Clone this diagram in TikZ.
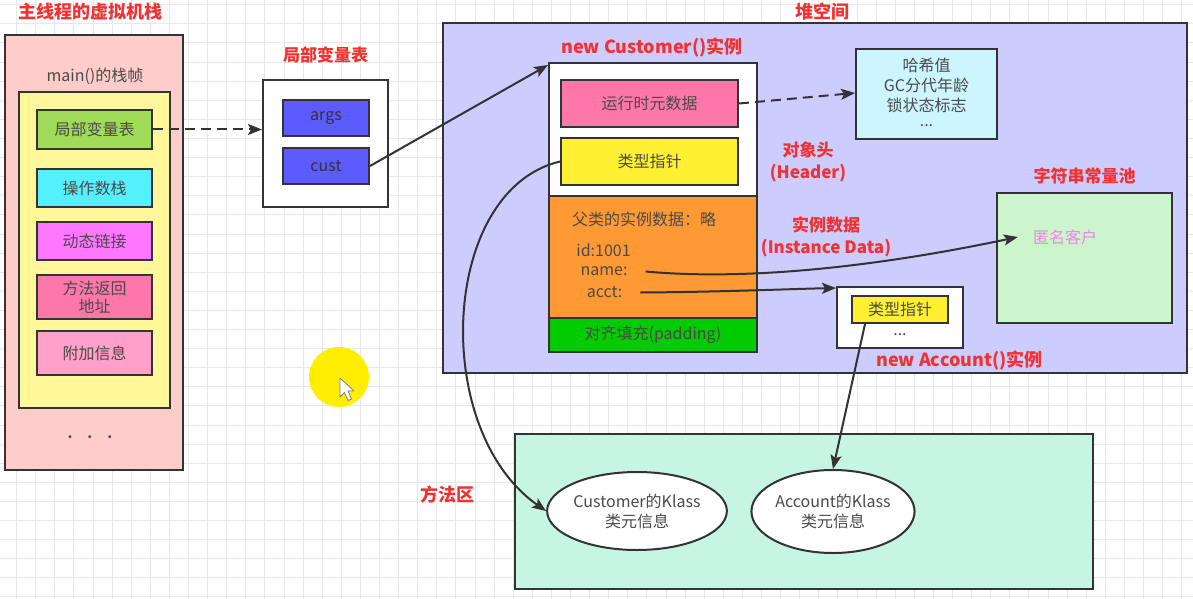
\documentclass[tikz,border=0pt]{standalone}
\usepackage{fontspec}
\setmainfont{Noto Sans CJK SC}
\usetikzlibrary{arrows.meta,shapes.geometric}
\definecolor{edge}{HTML}{333333}
\definecolor{txt}{HTML}{4A4A4A}
\definecolor{ttl}{RGB}{240,50,50}
\definecolor{gridc}{RGB}{232,232,232}
\definecolor{stackbg}{HTML}{FFCCCC}
\definecolor{framebg}{HTML}{FFF799}
\definecolor{lvtc}{HTML}{A0DC5A}
\definecolor{opsc}{HTML}{55F0FF}
\definecolor{dync}{HTML}{FF77FF}
\definecolor{retc}{HTML}{FF77AA}
\definecolor{addc}{HTML}{FFA0C8}
\definecolor{bluec}{HTML}{5B5BFF}
\definecolor{heapc}{HTML}{CCCCFF}
\definecolor{metac}{HTML}{FF77AA}
\definecolor{tpc}{HTML}{FFF033}
\definecolor{orangec}{HTML}{FF9933}
\definecolor{padc}{HTML}{00CC00}
\definecolor{infoc}{HTML}{CCF5FF}
\definecolor{poolc}{HTML}{CCF5CC}
\definecolor{anonc}{HTML}{EE82EE}
\definecolor{methc}{HTML}{C6F5E3}
\definecolor{cursc}{HTML}{FFEE00}
\newcommand\boxfont{\fontsize{16}{20}\selectfont}
\newcommand\bigtitle{\fontsize{18}{21}\selectfont\bfseries}
\newcommand\smalltitle{\fontsize{17}{22}\selectfont\bfseries}
\tikzset{
  box/.style={draw=edge, line width=2pt, inner sep=0pt, text=txt, font=\boxfont, align=center},
  lbl/.style={inner sep=0pt, text=txt, font=\boxfont, align=center},
  ttlA/.style={inner sep=0pt, text=ttl, font=\bigtitle, align=center},
  ttlB/.style={inner sep=0pt, text=ttl, font=\smalltitle, align=center},
  arr/.style={draw=edge, line width=2pt, -{Stealth[length=14pt,width=11pt,inset=3pt]}},
  dasharr/.style={arr, dash pattern=on 10pt off 6pt}
}
\begin{document}
\begin{tikzpicture}[x=1pt,y=-1pt]
\useasboundingbox (0,0) rectangle (1193,599);
\fill[white] (0,0) rectangle (1193,599);
\foreach \i in {0,...,61} \draw[gridc, line width=0.8pt] ({16.5+\i*19.1},0) -- ({16.5+\i*19.1},599);
\foreach \j in {0,...,31} \draw[gridc, line width=0.8pt] (0,{4.7+\j*19.1}) -- (1193,{4.7+\j*19.1});

% ---- main thread stack ----
\node[ttlA] (stackTitle) at (90,12) {主线程的虚拟机栈};
\node[box, fill=stackbg, minimum width=178, minimum height=435] (stack) at (94,252.5) {};
\node[lbl] (frameTitle) at (95,76) {main()的栈帧};
\node[box, fill=framebg, minimum width=151, minimum height=316] (frame) at (94.5,250) {};
\node[box, fill=lvtc, minimum width=115, minimum height=39] (lvt) at (94.5,129.5) {局部变量表};
\node[box, fill=opsc, minimum width=115, minimum height=38] (ops) at (94.5,188) {操作数栈};
\node[box, fill=dync, minimum width=115, minimum height=38] (dyn) at (94.5,241) {动态链接};
\node[box, fill=retc, minimum width=115, minimum height=44, font=\fontsize{16}{18}\selectfont] (ret) at (94.5,297) {方法返回\\地址};
\node[box, fill=addc, minimum width=115, minimum height=44] (add) at (94.5,353) {附加信息};
\node[lbl, font=\fontsize{14}{16}\selectfont] (dots) at (90,439) {•\hspace{6pt}•\hspace{6pt}•};

% ---- local variable table ----
\node[ttlB] (lvTitle) at (325.5,55) {局部变量表};
\node[box, fill=white, minimum width=125, minimum height=127] (lvbox) at (325.5,143.5) {};
\node[box, fill=bluec, minimum width=86, minimum height=36, text=edge] (args) at (326,118) {args};
\node[box, fill=bluec, minimum width=86, minimum height=36, text=edge] (cust) at (326,166) {cust};

% ---- cursor highlight ----
\fill[cursc] (339,377) circle (30);
\draw[fill=white, draw=gray, line width=0.8pt, line join=round] (340,378) -- (340,397) -- (344.5,392.5) -- (348,400.5) -- (351.5,399) -- (348,391) -- (354,391) -- cycle;

% ---- heap ----
\node[ttlA] (heapTitle) at (822,12) {堆空间};
\node[box, fill=heapc, minimum width=744, minimum height=350] (heap) at (815,198) {};
\node[ttlA] (custTitle) at (652,48) {new Customer()实例};
\node[box, fill=white, minimum width=208, minimum height=133] (custHead) at (653,129.5) {};
\node[box, fill=metac, minimum width=177, minimum height=47] (meta) at (649.5,103.5) {运行时元数据};
\node[box, fill=tpc, minimum width=177, minimum height=47] (tp) at (649.5,161.5) {类型指针};
\node[box, fill=orangec, minimum width=208, minimum height=122] (inst) at (653,257) {};
\node[box, fill=padc, minimum width=208, minimum height=34] (pad) at (653,335) {对齐填充(padding)};
\node[lbl] (superT) at (644,219) {父类的实例数据：略};
\node[lbl] (idT) at (603.5,250) {id:1001};
\node[lbl] (nameT) at (604,271.5) {name:};
\node[lbl] (acctT) at (604.5,292.5) {acct:};
\node[ttlB] (headerLbl) at (808,162) {对象头\\(Header)};
\node[ttlB] (instLbl) at (826,236.5) {实例数据\\(Instance Data)};

\node[box, fill=infoc, minimum width=141, minimum height=90] (info) at (926.5,94) {};
\node[lbl] (h1) at (926.5,65) {哈希值};
\node[lbl] (h2) at (926.5,85) {GC分代年龄};
\node[lbl] (h3) at (926.5,105) {锁状态标志};
\node[lbl] (h4) at (926.5,126) {...};

\node[ttlB] (poolTitle) at (1084.5,176) {字符串常量池};
\node[box, fill=poolc, minimum width=175, minimum height=130] (pool) at (1084.5,258) {};
\node[lbl, text=anonc] (anon) at (1065,237) {匿名客户};

\node[box, fill=white, minimum width=126, minimum height=61] (acctBox) at (900,317.5) {};
\node[box, fill=tpc, minimum width=96, minimum height=27] (acctTp) at (900,309.5) {类型指针};
\node[lbl] (acctDots) at (900,335) {...};
\node[ttlA] (acctTitle) at (959.5,361) {new Account()实例};

% ---- method area ----
\node[ttlA] (methTitle) at (447,495) {方法区};
\node[box, fill=methc, minimum width=578, minimum height=155] (meth) at (804,511.5) {};
\node[box, fill=white, ellipse, minimum width=174, minimum height=78] (custK) at (637,511) {Customer的Klass\\类元信息};
\node[box, fill=white, ellipse, minimum width=160, minimum height=83] (acctK) at (833,511.5) {Account的Klass\\类元信息};

% ---- connectors ----
\draw[dasharr] (lvt.east) -- (lvt.east -| lvbox.west);
\draw[arr] (cust.east) -- ([yshift=-3pt]custHead.north west);
\draw[dasharr] (meta.east) -- ([yshift=1pt]info.west);
\draw[arr] ([xshift=18pt]nameT.east) .. controls (760,282) and (900,262) .. ([xshift=-15pt]anon.west);
\draw[arr] ([xshift=18pt]acctT.east) .. controls (720,292) and (790,289) .. ([yshift=-2pt]acctBox.north west);
\draw[arr] ([xshift=-35pt]acctTp.south) -- (acctK.north);
\draw[arr] (tp.west) .. controls (440,190) and (430,430) .. (custK.west);
\end{tikzpicture}
\end{document}
